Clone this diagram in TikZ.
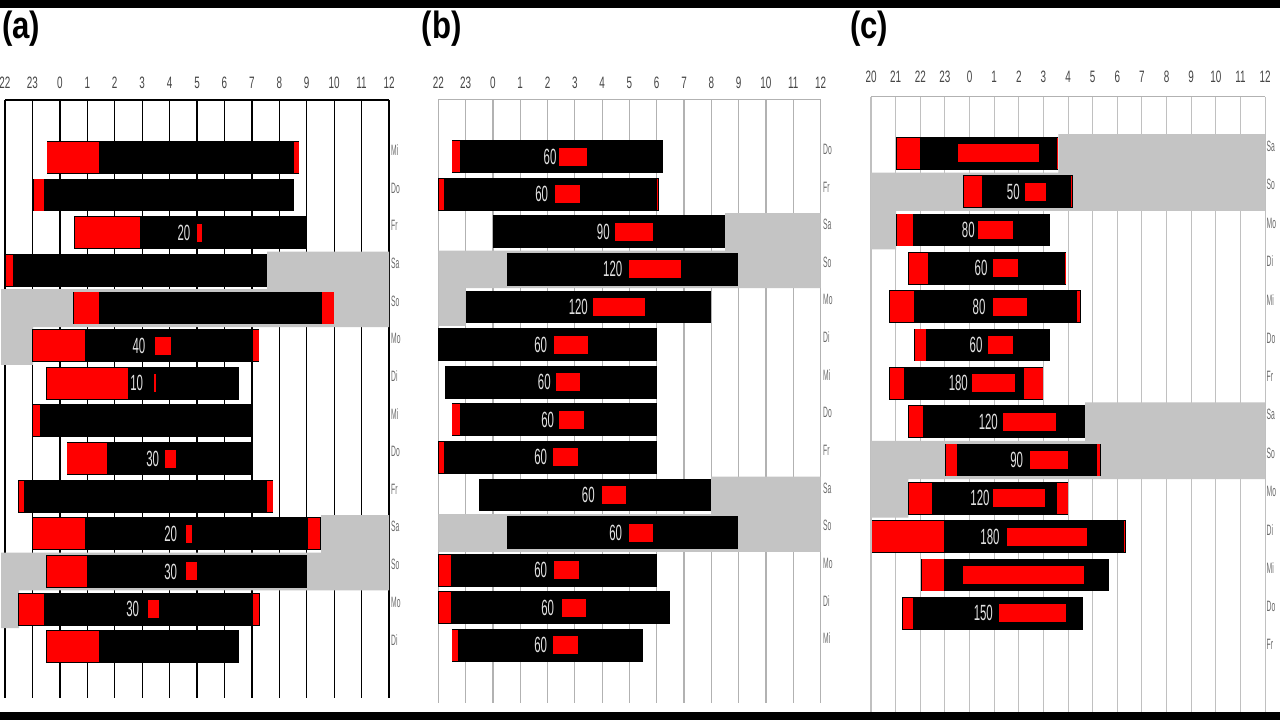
\documentclass[tikz,border=0pt]{standalone}
\usepackage{fontspec}
\setmainfont{Liberation Sans}
\definecolor{wkgray}{RGB}{196,196,196}
\definecolor{axtext}{RGB}{70,70,70}
\definecolor{daytext}{RGB}{105,105,105}
\definecolor{gridb}{RGB}{178,178,178}
\definecolor{gridc}{RGB}{192,192,192}
\definecolor{sred}{RGB}{255,0,0}
\definecolor{numtext}{RGB}{225,225,225}
\newcommand\sbBar[3]{\fill[black] (#1,#3-16.4) rectangle (#2,#3+16.4);}
\newcommand\sbRed[3]{\fill[sred] (#1+0.7,#3-15.6) rectangle (#2-0.7,#3+15.6);}
\newcommand\sbMark[3]{\fill[sred] (#1,#3-9) rectangle (#2,#3+9);}
\newcommand\sbNum[1]{\scalebox{0.52}[1]{\fontsize{22}{22}\selectfont #1}}
\newcommand\sbAx[1]{\scalebox{0.6}[1]{\fontsize{16.5}{16.5}\selectfont #1}}
\newcommand\sbDay[1]{\scalebox{0.45}[1]{\fontsize{15}{15}\selectfont #1}}
\tikzset{
  numlab/.style={inner sep=0pt, text=numtext, anchor=center},
  axlab/.style={inner sep=0pt, text=axtext, anchor=center},
  daylab/.style={inner sep=0pt, text=daytext, anchor=west},
  paneltitle/.style={inner sep=0pt, anchor=base west, font=\fontsize{38}{38}\selectfont\bfseries},
  wkfill/.style={fill=wkgray}
}
\begin{document}
\begin{tikzpicture}[x=1pt,y=-1pt]
\useasboundingbox (0,0) rectangle (1280,720);
\fill[white] (0,0) rectangle (1280,720);
\fill[black] (0,0) rectangle (1280,8);
\fill[black] (0,712) rectangle (1280,720);

% titles
\node[paneltitle] (ta) at (2,38.6) {\scalebox{0.82}[1]{(a)}};
\node[paneltitle] (tb) at (421.5,38.6) {\scalebox{0.82}[1]{(b)}};
\node[paneltitle] (tc) at (850,38.6) {\scalebox{0.82}[1]{(c)}};

% ================= panel (a) =================
\foreach \k in {0,...,14} {
  \draw[black, line width=1.3pt] (5+27.43*\k,100) -- (5+27.43*\k,698);
}
\draw[black, line width=2pt] (5,100) -- (389,100);
\foreach \lab [count=\k from 0] in {22,23,0,1,2,3,4,5,6,7,8,9,10,11,12} {
  \node[axlab] (axa\k) at (5+27.43*\k,83) {\sbAx{\lab}};
}
\foreach \d [count=\k from 0] in {Mi,Do,Fr,Sa,So,Mo,Di,Mi,Do,Fr,Sa,So,Mo,Di} {
  \node[daylab] (dya\k) at (391,157.3+37.65*\k-7) {\sbDay{\d}};
}
% weekend shading
\path[wkfill] (267,251.5) -- (389,251.5) -- (389,327.2) -- (33,327.2) -- (33,364.9) -- (1,364.9) -- (1,289.1) -- (267,289.1) -- cycle;
\path[wkfill] (321,515.0) -- (389,515.0) -- (389,590.3) -- (19,590.3) -- (19,628.0) -- (1,628.0) -- (1,552.6) -- (321,552.6) -- cycle;
% bars
\sbBar{46.7}{299.3}{157.3}\sbRed{46.7}{99.7}{157.3}\sbRed{293.3}{299.3}{157.3}
\sbBar{33.3}{294}{194.95}\sbRed{33.3}{44.3}{194.95}
\sbBar{74}{306.7}{232.6}\sbRed{74}{140.7}{232.6}\sbMark{196.7}{202}{232.6}
\node[numlab] (na2) at (184,232.6) {\sbNum{20}};
\sbBar{5}{266.7}{270.25}\sbRed{5}{13.3}{270.25}
\sbBar{73.3}{334.3}{307.9}\sbRed{73.3}{99.3}{307.9}\sbRed{321}{334.3}{307.9}
\sbBar{32.3}{259.3}{345.55}\sbRed{32.3}{86}{345.55}\sbRed{252.3}{259.3}{345.55}\sbMark{155.3}{171}{345.55}
\node[numlab] (na5) at (139,345.55) {\sbNum{40}};
\sbBar{46}{239.3}{383.2}\sbRed{46}{128.3}{383.2}\sbMark{154}{155.6}{383.2}
\node[numlab] (na6) at (136.7,383.2) {\sbNum{10}};
\sbBar{32.3}{252.3}{420.85}\sbRed{32.3}{40.7}{420.85}
\sbBar{66.7}{252.3}{458.5}\sbRed{66.7}{107.7}{458.5}\sbMark{165}{176}{458.5}
\node[numlab] (na8) at (152.7,458.5) {\sbNum{30}};
\sbBar{18.3}{273.3}{496.15}\sbRed{18.3}{24.3}{496.15}\sbRed{266.7}{273.3}{496.15}
\sbBar{32.3}{321}{533.8}\sbRed{32.3}{86}{533.8}\sbRed{307.3}{321}{533.8}\sbMark{186}{192.3}{533.8}
\node[numlab] (na10) at (170.7,533.8) {\sbNum{20}};
\sbBar{46}{306.7}{571.45}\sbRed{46}{87.3}{571.45}\sbMark{186}{197.3}{571.45}
\node[numlab] (na11) at (170.7,571.45) {\sbNum{30}};
\sbBar{18.3}{260}{609.1}\sbRed{18.3}{45}{609.1}\sbRed{252.3}{260}{609.1}\sbMark{148.3}{159}{609.1}
\node[numlab] (na12) at (132.7,609.1) {\sbNum{30}};
\sbBar{46}{239.3}{646.75}\sbRed{46}{99.3}{646.75}

% ================= panel (b) =================
\foreach \k in {0,...,14} {
  \draw[gridb, line width=1.2pt] (438.3+27.3*\k,99.5) -- (438.3+27.3*\k,703);
}
\draw[gridb, line width=1.4pt] (438.3,99.5) -- (820.7,99.5);
\foreach \lab [count=\k from 0] in {22,23,0,1,2,3,4,5,6,7,8,9,10,11,12} {
  \node[axlab] (axb\k) at (438.3+27.3*\k,83) {\sbAx{\lab}};
}
\foreach \d [count=\k from 0] in {Do,Fr,Sa,So,Mo,Di,Mi,Do,Fr,Sa,So,Mo,Di,Mi} {
  \node[daylab] (dyb\k) at (823,156.5+37.6*\k-7) {\sbDay{\d}};
}
\path[wkfill] (725,213.0) -- (820.7,213.0) -- (820.7,288.2) -- (465.7,288.2) -- (465.7,325.8) -- (438.3,325.8) -- (438.3,250.6) -- (725,250.6) -- cycle;
\path[wkfill] (711,476.6) -- (820.7,476.6) -- (820.7,551.8) -- (438.3,551.8) -- (438.3,514.2) -- (711,514.2) -- cycle;
\sbBar{451.7}{663.3}{156.5}\sbRed{451.7}{460.7}{156.5}\sbMark{559.3}{587.3}{156.5}
\node[numlab] (nb0) at (550,156.5) {\sbNum{60}};
\sbBar{438.3}{658.7}{194.1}\sbRed{438.3}{444.3}{194.1}\sbRed{656.5}{658.7}{194.1}\sbMark{555}{580}{194.1}
\node[numlab] (nb1) at (541.7,194.1) {\sbNum{60}};
\sbBar{492.7}{725}{231.7}\sbMark{615}{653.3}{231.7}
\node[numlab] (nb2) at (603.3,231.7) {\sbNum{90}};
\sbBar{506.7}{738.3}{269.3}\sbMark{629.3}{681}{269.3}
\node[numlab] (nb3) at (612.7,269.3) {\sbNum{120}};
\sbBar{465.7}{711}{306.9}\sbMark{592.7}{645}{306.9}
\node[numlab] (nb4) at (578.3,306.9) {\sbNum{120}};
\sbBar{438.3}{656.7}{344.5}\sbMark{554.3}{588.3}{344.5}
\node[numlab] (nb5) at (540.7,344.5) {\sbNum{60}};
\sbBar{445}{656.7}{382.1}\sbMark{555.7}{580}{382.1}
\node[numlab] (nb6) at (544.3,382.1) {\sbNum{60}};
\sbBar{451.7}{656.7}{419.7}\sbRed{451.7}{460.7}{419.7}\sbMark{559.3}{584}{419.7}
\node[numlab] (nb7) at (547.7,419.7) {\sbNum{60}};
\sbBar{438.3}{656.7}{457.3}\sbRed{438.3}{444.3}{457.3}\sbMark{553.3}{577.7}{457.3}
\node[numlab] (nb8) at (540.7,457.3) {\sbNum{60}};
\sbBar{479.3}{711}{494.9}\sbMark{601.7}{625.7}{494.9}
\node[numlab] (nb9) at (588.3,494.9) {\sbNum{60}};
\sbBar{506.7}{738.3}{532.5}\sbMark{629.3}{653.3}{532.5}
\node[numlab] (nb10) at (615.7,532.5) {\sbNum{60}};
\sbBar{438.3}{656.7}{570.1}\sbRed{438.3}{451.7}{570.1}\sbMark{554.3}{579}{570.1}
\node[numlab] (nb11) at (540.7,570.1) {\sbNum{60}};
\sbBar{438.3}{670}{607.7}\sbRed{438.3}{451.7}{607.7}\sbMark{561.7}{586}{607.7}
\node[numlab] (nb12) at (547.7,607.7) {\sbNum{60}};
\sbBar{451.7}{642.7}{645.3}\sbRed{451.7}{458.3}{645.3}\sbMark{553.3}{577.7}{645.3}
\node[numlab] (nb13) at (540.7,645.3) {\sbNum{60}};

% ================= panel (c) =================
\foreach \k in {0,...,16} {
  \draw[gridc, line width=1.1pt] (871+24.63*\k,96.5) -- (871+24.63*\k,712);
}
\draw[gridb, line width=1.3pt] (871,96.5) -- (1265,96.5);
\foreach \lab [count=\k from 0] in {20,21,22,23,0,1,2,3,4,5,6,7,8,9,10,11,12} {
  \node[axlab] (axc\k) at (871+24.63*\k,76.5) {\sbAx{\lab}};
}
\foreach \d [count=\k from 0] in {Sa,So,Mo,Di,Mi,Do,Fr,Sa,So,Mo,Di,Mi,Do,Fr} {
  \node[daylab] (dyc\k) at (1266.5,153.3+38.33*\k-7) {\sbDay{\d}};
}
\path[wkfill] (1058.3,134.1) -- (1265,134.1) -- (1265,210.9) -- (896,210.9) -- (896,249.3) -- (871,249.3) -- (871,172.5) -- (1058.3,172.5) -- cycle;
\path[wkfill] (1085,402.4) -- (1265,402.4) -- (1265,479.2) -- (908.3,479.2) -- (908.3,517.6) -- (871,517.6) -- (871,440.8) -- (1085,440.8) -- cycle;
\sbBar{896}{1058.3}{153.3}\sbRed{896}{921}{153.3}\sbRed{1056}{1058.3}{153.3}\sbMark{958.3}{1039}{153.3}
\sbBar{963.3}{1072.7}{191.63}\sbRed{963.3}{982.3}{191.63}\sbRed{1070.5}{1072.7}{191.63}\sbMark{1025}{1046}{191.63}
\node[numlab] (nc1) at (1013.3,191.63) {\sbNum{50}};
\sbBar{896}{1050}{229.96}\sbRed{896}{914}{229.96}\sbMark{978.3}{1012.7}{229.96}
\node[numlab] (nc2) at (968.3,229.96) {\sbNum{80}};
\sbBar{908.3}{1066}{268.29}\sbRed{908.3}{928.3}{268.29}\sbRed{1064}{1066}{268.29}\sbMark{992.7}{1017.7}{268.29}
\node[numlab] (nc3) at (981,268.29) {\sbNum{60}};
\sbBar{889.3}{1081}{306.62}\sbRed{889.3}{914.3}{306.62}\sbRed{1076}{1081}{306.62}\sbMark{992.7}{1026.7}{306.62}
\node[numlab] (nc4) at (979,306.62) {\sbNum{80}};
\sbBar{914.3}{1050}{344.95}\sbRed{914.3}{926.7}{344.95}\sbMark{988.3}{1013.3}{344.95}
\node[numlab] (nc5) at (976,344.95) {\sbNum{60}};
\sbBar{889.3}{1043.3}{383.28}\sbRed{889.3}{905}{383.28}\sbRed{1023.3}{1043.3}{383.28}\sbMark{971.7}{1015}{383.28}
\node[numlab] (nc6) at (958.3,383.28) {\sbNum{180}};
\sbBar{908.3}{1085}{421.61}\sbRed{908.3}{924}{421.61}\sbMark{1003.3}{1055.7}{421.61}
\node[numlab] (nc7) at (988.3,421.61) {\sbNum{120}};
\sbBar{945}{1100.7}{459.94}\sbRed{945}{957.3}{459.94}\sbRed{1096.7}{1100.7}{459.94}\sbMark{1030}{1068.3}{459.94}
\node[numlab] (nc8) at (1016.7,459.94) {\sbNum{90}};
\sbBar{908.3}{1068.3}{498.27}\sbRed{908.3}{932.3}{498.27}\sbRed{1056.7}{1068.3}{498.27}\sbMark{992.7}{1045}{498.27}
\node[numlab] (nc9) at (980,498.27) {\sbNum{120}};
\sbBar{871.7}{1126}{536.6}\sbRed{871.7}{945}{536.6}\sbRed{1123.5}{1126}{536.6}\sbMark{1007.3}{1086.7}{536.6}
\node[numlab] (nc10) at (990,536.6) {\sbNum{180}};
\sbBar{921}{1109}{574.93}\sbRed{921}{945}{574.93}\sbMark{963.3}{1084.3}{574.93}
\sbBar{902.3}{1082.7}{613.26}\sbRed{902.3}{914}{613.26}\sbMark{999.3}{1065.7}{613.26}
\node[numlab] (nc12) at (983.3,613.26) {\sbNum{150}};
\end{tikzpicture}
\end{document}
